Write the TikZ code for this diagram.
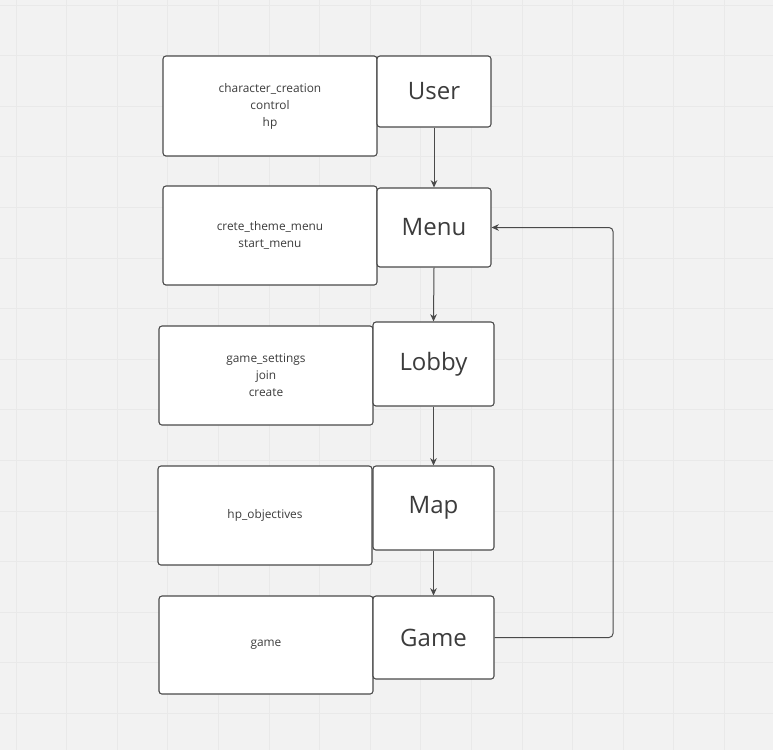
\documentclass[tikz,border=0pt]{standalone}
\usepackage{fontspec}
\setmainfont{Open Sans}
\usetikzlibrary{arrows.meta}
\definecolor{bg}{HTML}{F2F2F2}
\definecolor{gridc}{HTML}{E9E9E9}
\definecolor{edge}{HTML}{4A4A4A}
\definecolor{txt}{HTML}{3C3C3C}
\tikzset{
  pbox/.style 2 args={draw=edge, fill=white, line width=0.8pt, rounded corners=2.2pt,
    minimum width=#1*0.75pt, minimum height=#2*0.75pt, inner sep=0pt, text=txt},
  small/.style={align=center, font=\fontsize{8.9}{12.75}\selectfont},
  big/.style={font=\fontsize{18}{20}\selectfont},
  arr/.style={draw=edge, line width=0.75pt, -{Stealth[length=5.5pt,width=5pt]}},
}
\begin{document}
\begin{tikzpicture}[x=0.75pt,y=-0.75pt]
\fill[bg] (0,0) rectangle (773,750);
\useasboundingbox (0,0) rectangle (773,750);
\foreach \i in {0,...,15} {
  \draw[gridc, line width=0.5pt] (16+50.6*\i,0) -- (16+50.6*\i,750);
  \draw[gridc, line width=0.5pt] (0,5+50.6*\i) -- (773,5+50.6*\i);
}
% left text boxes
\node[pbox={214}{100}, small] (userinfo) at (270,106) {character\_creation\\control\\hp};
\node[pbox={214}{99}, small] (menuinfo) at (270,235.5) {crete\_theme\_menu\\start\_menu};
\node[pbox={214}{99}, small] (lobbyinfo) at (266,375.5) {game\_settings\\join\\create};
\node[pbox={214}{99}, small] (mapinfo) at (265,515.5) {hp\_objectives};
\node[pbox={214}{98}, small] (gameinfo) at (266,645) {game};
% right boxes
\node[pbox={114}{71}, big] (user) at (434,91.5) {User};
\node[pbox={114}{79}, big] (menu) at (434,227.5) {Menu};
\node[pbox={121}{84}, big] (lobby) at (433.5,364) {Lobby};
\node[pbox={121}{84}, big] (map) at (433.5,508) {Map};
\node[pbox={121}{83}, big] (game) at (433.5,637.5) {Game};
% connectors
\draw[arr] (user.south) -- (menu.north);
\draw[arr] (menu.south) -- (lobby.north);
\draw[arr] (lobby.south) -- (map.north);
\draw[arr] (map.south) -- (game.north);
\coordinate (turn) at (613,637.5);
\draw[arr, rounded corners=3pt] (game.east) -- (turn) |- (menu.east);
\end{tikzpicture}
\end{document}
